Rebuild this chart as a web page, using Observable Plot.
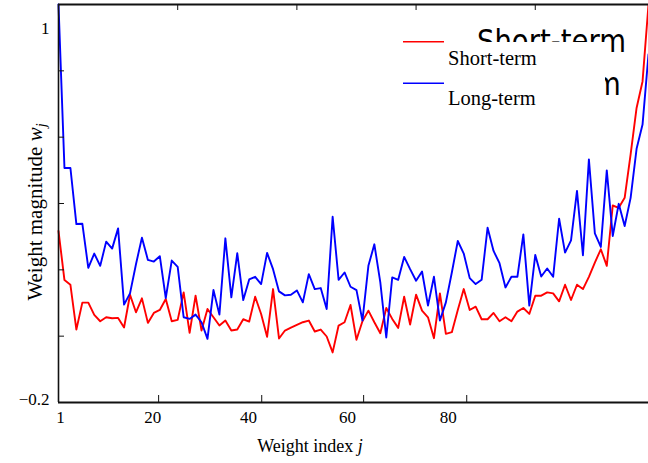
<!DOCTYPE html>
<html><head><meta charset="utf-8">
<script src="https://cdn.jsdelivr.net/npm/d3@7"></script>
<script src="https://cdn.jsdelivr.net/npm/@observablehq/plot@0.6"></script>
<style>body{margin:0;background:#fff}#chart{width:648px;height:463px;overflow:hidden}</style>
</head><body><div id="chart"></div>
<script>
// Weight index j = 0..99
const shortTerm = [0.317,0.169,0.155,0.020,0.101,0.101,0.064,0.045,0.057,0.054,
0.055,0.026,0.125,0.072,0.114,0.040,0.070,0.079,0.112,0.045,
0.049,0.132,0.010,0.122,0.017,0.082,0.057,0.032,0.047,0.017,
0.020,0.051,0.044,0.119,0.067,-0.002,0.142,-0.007,0.017,0.026,
0.034,0.042,0.047,0.014,0.020,-0.001,-0.049,0.032,0.042,0.094,
-0.011,0.045,0.077,0.042,0.009,0.085,0.052,0.025,0.119,0.035,
0.125,0.077,0.057,-0.006,0.129,0.007,0.012,0.079,0.142,0.079,
0.089,0.051,0.051,0.070,0.045,0.057,0.045,0.074,0.085,0.067,
0.122,0.122,0.132,0.129,0.105,0.155,0.109,0.155,0.142,0.179,
0.222,0.262,0.212,0.394,0.387,0.417,0.548,0.688,0.768,1.0];
const longTerm = [1.0,0.507,0.507,0.338,0.339,0.206,0.249,0.212,0.285,0.264,
0.325,0.095,0.129,0.217,0.297,0.230,0.225,0.241,0.115,0.228,
0.209,0.057,0.052,0.065,0.042,-0.008,0.139,0.065,0.295,0.117,
0.250,0.109,0.171,0.179,0.157,0.251,0.202,0.135,0.123,0.125,
0.138,0.102,0.187,0.142,0.145,0.082,0.360,0.170,0.192,0.149,
0.139,0.047,0.212,0.277,0.162,-0.004,0.177,0.170,0.239,0.202,
0.167,0.195,0.092,0.179,0.047,0.102,0.192,0.287,0.249,0.175,
0.157,0.170,0.327,0.257,0.220,0.147,0.179,0.179,0.307,0.092,
0.245,0.180,0.204,0.179,0.354,0.252,0.289,0.438,0.244,0.533,
0.310,0.269,0.500,0.302,0.399,0.332,0.417,0.565,0.638,0.850];
const seriesNames = ["Short-term", "Long-term"];
const seriesColors = ["#ff0000", "#0000ff"];

const xDomain = [0, 99];
const yDomain = [-0.2, 1.0];
const topTicks = [20, 40, 60, 80];
const bottomTicks = [16.8, 34.1, 51.2, 68.5];
const xTickLabels = ["1", "20", "40", "60", "80"];
const xTickLabelAt = [0.35, 15.8, 31.9, 48.5, 65.4];
const leftTicks = [0, 0.2, 0.4, 0.6, 0.8];
const yTickLabels = ["1", "\u22120.2"];
const yTickLabelAt = [0.928, -0.192];

const data = [];
shortTerm.forEach((w, j) => data.push({j, w, s: seriesNames[0]}));
longTerm.forEach((w, j) => data.push({j, w, s: seriesNames[1]}));

const axisColor = "#111";
const plot = Plot.plot({
  width: 648, height: 463,
  marginLeft: 58, marginRight: 0, marginTop: 4, marginBottom: 61,
  x: {domain: xDomain, axis: null},
  y: {domain: yDomain, axis: null},
  color: {domain: seriesNames, range: seriesColors},
  style: {fontFamily: "'Liberation Serif', serif", background: "#fff", color: "#000"},
  marks: [
    Plot.line(data, {x: "j", y: "w", stroke: "s", z: "s", strokeWidth: 1.9}),
    Plot.ruleY([yDomain[1]], {stroke: axisColor, strokeWidth: 2}),
    Plot.ruleY([yDomain[0]], {stroke: axisColor, strokeWidth: 2}),
    Plot.ruleX([xDomain[0]], {stroke: axisColor, strokeWidth: 1.6}),
    Plot.tickX(topTicks, {x: d => d, insetBottom: 392, stroke: axisColor, strokeWidth: 1}),
    Plot.tickX(bottomTicks, {x: d => d, insetTop: 391, stroke: axisColor, strokeWidth: 1}),
    Plot.tickY(leftTicks, {y: d => d, insetRight: 584, stroke: axisColor, strokeWidth: 1}),
    Plot.text(xTickLabels, {x: (d, i) => xTickLabelAt[i], text: d => d, frameAnchor: "bottom", lineAnchor: "top", dy: 8, fontSize: 17, fill: "#000"}),
    Plot.text(yTickLabels, {y: (d, i) => yTickLabelAt[i], text: d => d, frameAnchor: "left", textAnchor: "end", dx: -9, fontSize: 17, fill: "#000"})
  ]
});

const svg = d3.select(plot);
const g = svg.append("g").attr("font-family", "'Liberation Serif', serif").attr("fill", "#000");
// x title
const xt = g.append("text").attr("x", 310).attr("y", 452).attr("text-anchor", "middle").attr("font-size", 18);
xt.append("tspan").text("Weight index ");
xt.append("tspan").attr("font-style", "italic").text("j");
// y title
const yt = g.append("text").attr("transform", "translate(42,212) rotate(-90)").attr("text-anchor", "middle").attr("font-size", 21);
yt.append("tspan").text("Weight magnitude ");
yt.append("tspan").attr("font-style", "italic").text("w");
yt.append("tspan").attr("font-style", "italic").attr("font-size", 14).attr("dy", 4).text("j");

// legend (with the stray large labels partly hidden behind its box)
const lg = svg.append("g").attr("text-anchor", "start");
const big = lg.append("g").attr("font-family", "'DejaVu Sans', sans-serif").attr("font-size", 27.5).attr("fill", "#000");
big.append("text").attr("text-anchor", "start").attr("transform", "translate(477,52) scale(1,1.15)").text(seriesNames[0]);
big.append("text").attr("text-anchor", "start").attr("transform", "translate(479,95) scale(1,1.15)").text(seriesNames[1]);
lg.append("rect").attr("x", 440).attr("y", 42).attr("width", 165).attr("height", 70).attr("fill", "#fff");
const rows = [[41.7, 64.5], [83.3, 105]];
seriesNames.forEach((name, i) => {
  lg.append("line").attr("x1", 403).attr("x2", 444).attr("y1", rows[i][0]).attr("y2", rows[i][0])
    .attr("stroke", seriesColors[i]).attr("stroke-width", 1.5);
  lg.append("text").attr("text-anchor", "start").attr("x", 448).attr("y", rows[i][1]).attr("font-family", "'Liberation Serif', serif")
    .attr("font-size", 20.5).attr("fill", "#000").text(name);
});

document.getElementById("chart").appendChild(plot);
</script>
</body></html>
